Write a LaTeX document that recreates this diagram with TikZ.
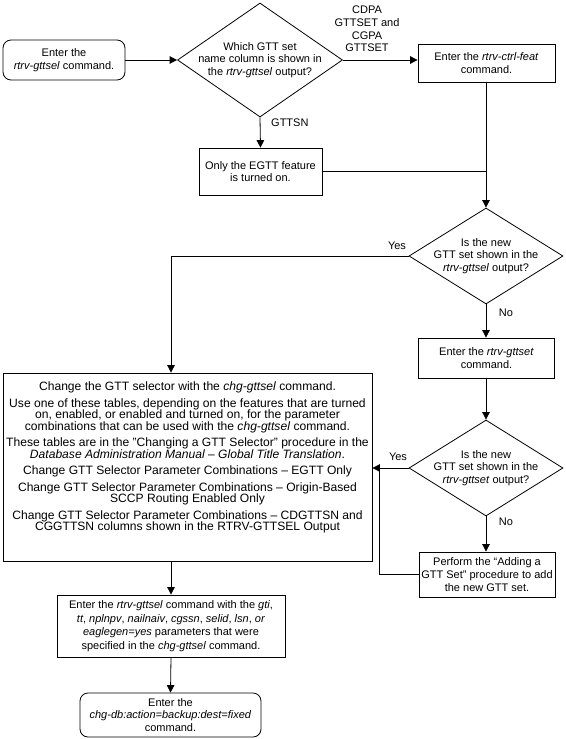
\documentclass[tikz,border=0pt]{standalone}
\usepackage{fontspec}
\setmainfont{Liberation Sans}
\usetikzlibrary{arrows.meta,shapes.geometric}
\begin{document}
\begin{tikzpicture}[x=1pt,y=-1pt,
  every node/.style={font=\fontsize{11pt}{12.8pt}\selectfont},
  box/.style={draw, line width=0.8pt, inner sep=0pt, align=center},
  rbox/.style={box, rounded corners=8pt},
  dia/.style={draw, line width=0.8pt, diamond, inner sep=0pt},
  txt/.style={inner sep=0pt, align=center},
  arr/.style={line width=0.8pt, -{Triangle[length=7.5pt,width=7.5pt]}},
  ln/.style={line width=0.8pt}]
\useasboundingbox (0,0) rectangle (565,739);

\node[rbox, minimum width=122pt, minimum height=40pt] (start) at (64,60)
  {Enter the\\\textit{rtrv-gttsel} command.};
\node[dia, minimum width=165pt, minimum height=114pt] (d1) at (260,60) {};
\node[txt] (d1t) at (d1) {Which GTT set\\name column is shown in\\the \textit{rtrv-gttsel} output?};
\node[box, minimum width=137pt, minimum height=38pt] (feat) at (486.5,63)
  {Enter the \textit{rtrv-ctrl-feat}\\command.};
\node[box, minimum width=123pt, minimum height=47pt] (egtt) at (260.5,171.5)
  {Only the EGTT feature\\is turned on.};
\node[dia, minimum width=154pt, minimum height=96pt] (d2) at (486,256) {};
\node[txt] (d2t) at (d2) {Is the new\\GTT set shown in the\\\textit{rtrv-gttsel} output?};
\node[box, minimum width=136pt, minimum height=40pt] (gttset) at (486.5,358)
  {Enter the \textit{rtrv-gttset}\\command.};
\node[dia, minimum width=154pt, minimum height=96pt] (d3) at (486,468) {};
\node[txt] (d3t) at (d3) {Is the new\\GTT set shown in the\\\textit{rtrv-gttset} output?};
\node[box, minimum width=136pt, minimum height=45pt] (perform) at (487,574.5)
  {Perform the “Adding a\\GTT Set” procedure to add\\the new GTT set.};
\node[box, minimum width=369pt, minimum height=188pt] (big) at (187.5,467) {};
\node[txt, anchor=north, font=\fontsize{12.1pt}{11.5pt}\selectfont] (bigt) at (187.5,382)
  {Change the GTT selector with the \textit{chg-gttsel} command.\\[5pt]
   Use one of these tables, depending on the features that are turned\\
   on, enabled, or enabled and turned on, for the parameter\\
   combinations that can be used with the \textit{chg-gttsel} command.\\[5pt]
   These tables are in the "Changing a GTT Selector" procedure in the\\
   \textit{Database Administration Manual – Global Title Translation}.\\[5pt]
   Change GTT Selector Parameter Combinations – EGTT Only\\[5pt]
   Change GTT Selector Parameter Combinations – Origin-Based\\
   SCCP Routing Enabled Only\\[5pt]
   Change GTT Selector Parameter Combinations – CDGTTSN and\\
   CGGTTSN columns shown in the RTRV-GTTSEL Output};
\node[box, minimum width=228pt, minimum height=62pt,
  font=\fontsize{11pt}{13.5pt}\selectfont] (box3) at (171,626)
  {Enter the \textit{rtrv-gttsel} command with the \textit{gti},\\
   \textit{tt}, \textit{nplnpv}, \textit{nailnaiv}, \textit{cgssn}, \textit{selid}, \textit{lsn}, \textit{or}\\
   \textit{eaglegen=yes} parameters that were\\
   specified in the \textit{chg-gttsel} command.};
\node[rbox, minimum width=181pt, minimum height=44pt] (final) at (170.5,715)
  {Enter the\\\textit{chg-db:action=backup:dest=fixed}\\command.};

% labels
\node[txt] (lcd) at (367,29) {CDPA\\GTTSET and\\CGPA\\GTTSET};
\node[txt, anchor=west] (lgs) at (271,123) {GTTSN};
\node[txt] (ly2) at (397,246) {Yes};
\node[txt] (ln2) at (506,313) {No};
\node[txt] (ly3) at (398,457) {Yes};
\node[txt] (ln3) at (506,522) {No};

\coordinate (j1) at (379,574.5);

% connectors
\draw[arr] (start.east) -- (d1.west);
\draw[arr] (d1.east) -- (d1.east -| feat.west);
\draw[arr] (d1.south) -- (egtt.north);
\draw[ln] (egtt.east) -- (egtt.east -| d2.north);
\draw[arr] (feat.south -| d2.north) -- (d2.north);
\draw[arr] (d2.west) -| (box3.north |- big.north);
\draw[arr] (d2.south) -- (gttset.north -| d2.south);
\draw[arr] (gttset.south -| d3.north) -- (d3.north);
\draw[arr] (d3.west) -- (d3.west -| big.east);
\draw[arr] (d3.south) -- (perform.north -| d3.south);
\draw[ln] (perform.west) -- (j1) -- (j1 |- d3.west);
\draw[arr] (big.south -| box3.north) -- (box3.north);
\draw[arr] (box3.south) -- (final.north);
\end{tikzpicture}
\end{document}
